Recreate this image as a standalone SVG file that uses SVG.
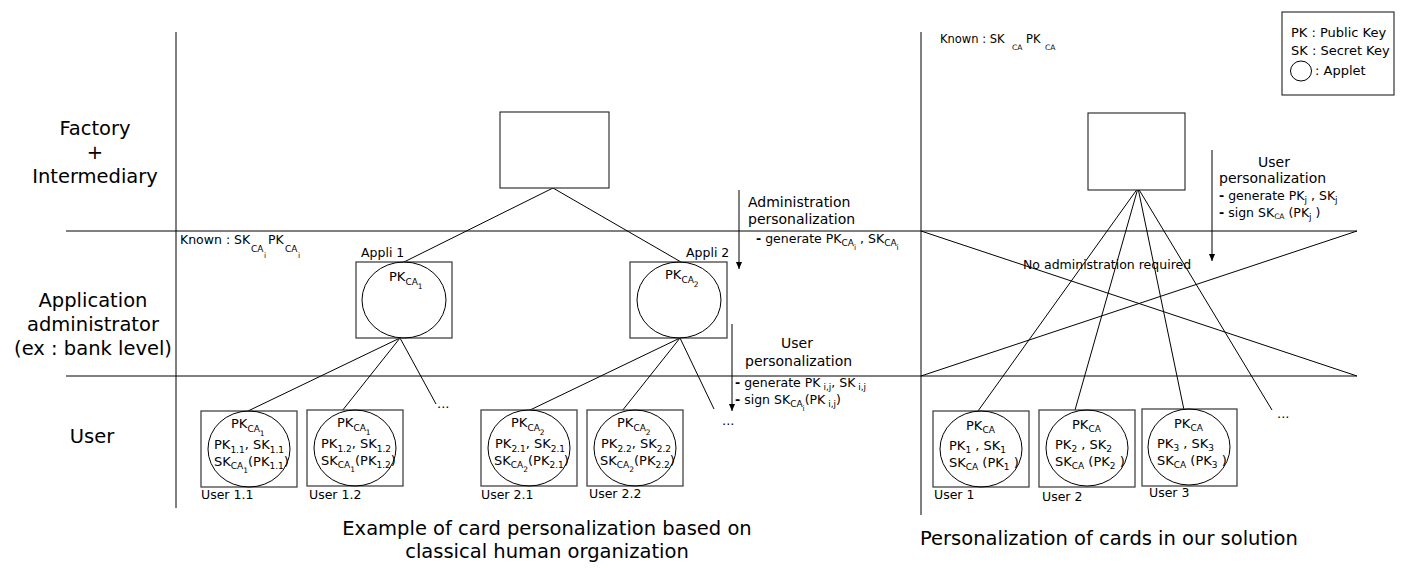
<svg xmlns="http://www.w3.org/2000/svg" width="1401" height="568" viewBox="0 0 1401 568">
<defs>
<marker id="ah" viewBox="0 0 8 10" refX="8" refY="5" markerWidth="7" markerHeight="9" markerUnits="userSpaceOnUse" orient="auto">
<path d="M0,1.5 L8,5 L0,8.5 Z" fill="#000"/>
</marker>
</defs>
<style>
text{font-family:"DejaVu Sans","Liberation Sans",sans-serif;fill:#000}
.big{font-size:19.5px}
.t14{font-size:14px}
.t13{font-size:13px}
.t12{font-size:12.5px}
.t11{font-size:11.5px}
.s9{font-size:9px}
.s8{font-size:7.5px}
.b{font-weight:bold}
.ln{stroke:#000;stroke-width:1;fill:none}
.card{fill:#fff;stroke:#444;stroke-width:1.3}
.app{fill:none;stroke:#000;stroke-width:1}
.box{fill:#fff;stroke:#222;stroke-width:1.1}
</style>
<rect width="1401" height="568" fill="#fff"/>

<g id="frame">
<line class="ln" x1="176" y1="32" x2="176" y2="508"/>
<line class="ln" x1="921" y1="32" x2="921" y2="515"/>
<line class="ln" x1="66" y1="231" x2="1357" y2="231"/>
<line class="ln" x1="66" y1="376" x2="1357" y2="376"/>
</g>

<g id="row-labels">
<text class="big" x="95" y="135" text-anchor="middle">Factory</text>
<text class="big" x="95" y="159" text-anchor="middle">+</text>
<text class="big" x="95" y="183" text-anchor="middle">Intermediary</text>
<text class="big" x="93" y="307" text-anchor="middle">Application</text>
<text class="big" x="93" y="331" text-anchor="middle">administrator</text>
<text class="big" x="93" y="355" text-anchor="middle">(ex : bank level)</text>
<text class="big" x="92" y="443" text-anchor="middle">User</text>
</g>

<g id="connectors">
<line class="ln" x1="553" y1="188" x2="404" y2="262"/>
<line class="ln" x1="553" y1="188" x2="681" y2="262"/>
<line class="ln" x1="400" y1="338" x2="248" y2="411"/>
<line class="ln" x1="400" y1="338" x2="342" y2="411"/>
<line class="ln" x1="400" y1="338" x2="436" y2="404"/>
<line class="ln" x1="680" y1="338" x2="528" y2="411"/>
<line class="ln" x1="680" y1="338" x2="622" y2="411"/>
<line class="ln" x1="680" y1="338" x2="714" y2="409"/>
<line class="ln" x1="1138" y1="188" x2="978" y2="411"/>
<line class="ln" x1="1138" y1="188" x2="1075" y2="410"/>
<line class="ln" x1="1138" y1="188" x2="1184" y2="410"/>
<line class="ln" x1="1138" y1="188" x2="1272" y2="410"/>
<line class="ln" x1="921" y1="231" x2="1357" y2="376"/>
<line class="ln" x1="921" y1="376" x2="1357" y2="231"/>
<line class="ln" x1="739" y1="190" x2="739" y2="269" marker-end="url(#ah)"/>
<line class="ln" x1="732" y1="324" x2="732" y2="411" marker-end="url(#ah)"/>
<line class="ln" x1="1212" y1="150" x2="1212" y2="261" marker-end="url(#ah)"/>
</g>

<g id="factory-left"><rect class="box" x="500" y="112" width="109" height="76"/></g>
<g id="factory-right"><rect class="box" x="1088" y="113" width="97" height="77"/></g>

<g id="known-left">
<text class="t12" x="180" y="244">Known : SK</text>
<text class="s9" x="251" y="252">CA</text><text class="s8" x="264" y="258">i</text>
<text class="t12" x="268" y="244">PK</text>
<text class="s9" x="285" y="252">CA</text><text class="s8" x="298" y="258">i</text>
</g>

<g id="known-right">
<text class="t11" x="940" y="43">Known : SK</text>
<text class="s8" x="1012" y="50">CA</text>
<text class="t11" x="1026" y="43">PK</text>
<text class="s8" x="1045" y="50">CA</text>
</g>

<g id="appli1">
<text class="t12" x="361" y="257">Appli 1</text>
<rect class="card" x="356" y="262" width="96" height="76"/>
<ellipse class="app" cx="404" cy="300" rx="42" ry="38"/>
<text class="t13" x="389" y="281">PK<tspan class="s9" dy="4">CA</tspan><tspan class="s8" dy="4">1</tspan></text>
</g>

<g id="appli2">
<text class="t12" x="686" y="257">Appli 2</text>
<rect class="card" x="630" y="262" width="97" height="76"/>
<ellipse class="app" cx="679" cy="300" rx="42" ry="38"/>
<text class="t13" x="665" y="279">PK<tspan class="s9" dy="4">CA</tspan><tspan class="s8" dy="4">2</tspan></text>
</g>

<g id="admin-perso">
<text class="t14" x="748" y="207">Administration</text>
<text class="t14" x="748" y="224">personalization</text>
<text class="t12" x="756" y="243"><tspan class="b">-</tspan> generate PK<tspan class="s9" dy="3">CA</tspan><tspan class="s8" dy="4">i</tspan><tspan dy="-7"> , SK</tspan><tspan class="s9" dy="3">CA</tspan><tspan class="s8" dy="4">i</tspan></text>
</g>

<g id="user-perso-left">
<text class="t14" x="797" y="348" text-anchor="middle">User</text>
<text class="t14" x="745" y="366">personalization</text>
<text class="t12" x="735" y="387"><tspan class="b">-</tspan> generate PK<tspan class="s9" dy="3"> i,j</tspan><tspan dy="-3">, SK</tspan><tspan class="s9" dy="3"> i,j</tspan></text>
<text class="t12" x="735" y="404"><tspan class="b">-</tspan> sign SK<tspan class="s9" dy="3">CA</tspan><tspan class="s8" dy="4">i</tspan><tspan dy="-7">(PK</tspan><tspan class="s9" dy="3"> i,j</tspan><tspan dy="-3">)</tspan></text>
<text class="t13" x="722" y="425">...</text>
</g>

<g id="user-1-1">
<rect class="card" x="201" y="411" width="96" height="76"/>
<ellipse class="app" cx="249" cy="449" rx="41" ry="38"/>
<text class="t13" x="231" y="428">PK<tspan class="s9" dy="4">CA</tspan><tspan class="s8" dy="4">1</tspan></text>
<text class="t13" x="214" y="449">PK<tspan class="s9" dy="4">1.1</tspan><tspan dy="-4">, SK</tspan><tspan class="s9" dy="4">1.1</tspan></text>
<text class="t13" x="214" y="466">SK<tspan class="s9" dy="3">CA</tspan><tspan class="s8" dy="4">1</tspan><tspan dy="-7">(PK</tspan><tspan class="s9" dy="3">1.1</tspan><tspan dy="-3">)</tspan></text>
<text class="t12" x="201" y="499">User 1.1</text>
</g>

<g id="user-1-2">
<rect class="card" x="307" y="410" width="96" height="76"/>
<ellipse class="app" cx="355" cy="448" rx="41" ry="38"/>
<text class="t13" x="337" y="427">PK<tspan class="s9" dy="4">CA</tspan><tspan class="s8" dy="4">1</tspan></text>
<text class="t13" x="321" y="448">PK<tspan class="s9" dy="4">1.2</tspan><tspan dy="-4">, SK</tspan><tspan class="s9" dy="4">1.2</tspan></text>
<text class="t13" x="321" y="465">SK<tspan class="s9" dy="3">CA</tspan><tspan class="s8" dy="4">1</tspan><tspan dy="-7">(PK</tspan><tspan class="s9" dy="3">1.2</tspan><tspan dy="-3">)</tspan></text>
<text class="t12" x="309" y="499">User 1.2</text>
</g>

<g id="dots-1"><text class="t13" x="437" y="408">...</text></g>

<g id="user-2-1">
<rect class="card" x="481" y="410" width="96" height="76"/>
<ellipse class="app" cx="529" cy="448" rx="41" ry="38"/>
<text class="t13" x="511" y="427">PK<tspan class="s9" dy="4">CA</tspan><tspan class="s8" dy="4">2</tspan></text>
<text class="t13" x="495" y="448">PK<tspan class="s9" dy="4">2.1</tspan><tspan dy="-4">, SK</tspan><tspan class="s9" dy="4">2.1</tspan></text>
<text class="t13" x="494" y="465">SK<tspan class="s9" dy="3">CA</tspan><tspan class="s8" dy="4">2</tspan><tspan dy="-7">(PK</tspan><tspan class="s9" dy="3">2.1</tspan><tspan dy="-3">)</tspan></text>
<text class="t12" x="481" y="499">User 2.1</text>
</g>

<g id="user-2-2">
<rect class="card" x="587" y="410" width="96" height="76"/>
<ellipse class="app" cx="635" cy="448" rx="41" ry="38"/>
<text class="t13" x="617" y="427">PK<tspan class="s9" dy="4">CA</tspan><tspan class="s8" dy="4">2</tspan></text>
<text class="t13" x="601" y="448">PK<tspan class="s9" dy="4">2.2</tspan><tspan dy="-4">, SK</tspan><tspan class="s9" dy="4">2.2</tspan></text>
<text class="t13" x="600" y="465">SK<tspan class="s9" dy="3">CA</tspan><tspan class="s8" dy="4">2</tspan><tspan dy="-7">(PK</tspan><tspan class="s9" dy="3">2.2</tspan><tspan dy="-3">)</tspan></text>
<text class="t12" x="589" y="498">User 2.2</text>
</g>

<g id="no-admin"><text class="t12" x="1023" y="269">No administration required</text></g>

<g id="user-perso-right">
<text class="t14" x="1274" y="167" text-anchor="middle">User</text>
<text class="t14" x="1219" y="183">personalization</text>
<text class="t12" x="1219" y="200"><tspan class="b">-</tspan> generate PK<tspan class="s9" dy="3">j</tspan><tspan dy="-3"> , SK</tspan><tspan class="s9" dy="3">j</tspan></text>
<text class="t12" x="1219" y="217"><tspan class="b">-</tspan> sign SK<tspan class="s8" dy="2">CA</tspan><tspan dy="-2"> (PK</tspan><tspan class="s9" dy="3">j</tspan><tspan dy="-3"> )</tspan></text>
</g>

<g id="user-1">
<rect class="card" x="933" y="411" width="96" height="76"/>
<ellipse class="app" cx="981" cy="449" rx="41" ry="38"/>
<text class="t13" x="966" y="430">PK<tspan class="s9" dy="3">CA</tspan></text>
<text class="t13" x="949" y="450">PK<tspan class="s9" dy="3">1</tspan><tspan dy="-3"> , SK</tspan><tspan class="s9" dy="3">1</tspan></text>
<text class="t13" x="949" y="467">SK<tspan class="s9" dy="3">CA</tspan><tspan dy="-3"> (PK</tspan><tspan class="s9" dy="3">1</tspan><tspan dy="-3"> )</tspan></text>
<text class="t12" x="934" y="499">User 1</text>
</g>

<g id="user-2">
<rect class="card" x="1039" y="410" width="96" height="77"/>
<ellipse class="app" cx="1087" cy="448" rx="41" ry="38"/>
<text class="t13" x="1072" y="429">PK<tspan class="s9" dy="3">CA</tspan></text>
<text class="t13" x="1055" y="449">PK<tspan class="s9" dy="3">2</tspan><tspan dy="-3"> , SK</tspan><tspan class="s9" dy="3">2</tspan></text>
<text class="t13" x="1055" y="466">SK<tspan class="s9" dy="3">CA</tspan><tspan dy="-3"> (PK</tspan><tspan class="s9" dy="3">2</tspan><tspan dy="-3"> )</tspan></text>
<text class="t12" x="1042" y="501">User 2</text>
</g>

<g id="user-3">
<rect class="card" x="1142" y="409" width="95" height="77"/>
<ellipse class="app" cx="1189" cy="447" rx="41" ry="38"/>
<text class="t13" x="1174" y="428">PK<tspan class="s9" dy="3">CA</tspan></text>
<text class="t13" x="1157" y="448">PK<tspan class="s9" dy="3">3</tspan><tspan dy="-3"> , SK</tspan><tspan class="s9" dy="3">3</tspan></text>
<text class="t13" x="1157" y="465">SK<tspan class="s9" dy="3">CA</tspan><tspan dy="-3"> (PK</tspan><tspan class="s9" dy="3">3</tspan><tspan dy="-3"> )</tspan></text>
<text class="t12" x="1149" y="497">User 3</text>
</g>

<g id="dots-3"><text class="t13" x="1277" y="418">...</text></g>

<g id="legend">
<rect class="box" x="1282" y="12" width="112" height="83"/>
<text class="t13" x="1291" y="37">PK : Public Key</text>
<text class="t13" x="1291" y="55">SK : Secret Key</text>
<ellipse class="app" cx="1301" cy="71" rx="10.5" ry="10"/>
<text class="t13" x="1315" y="75">: Applet</text>
</g>

<g id="captions">
<text class="big" x="547" y="535" text-anchor="middle">Example of card personalization based on</text>
<text class="big" x="547" y="558" text-anchor="middle">classical human organization</text>
<text class="big" x="920" y="545">Personalization of cards in our solution</text>
</g>
</svg>
